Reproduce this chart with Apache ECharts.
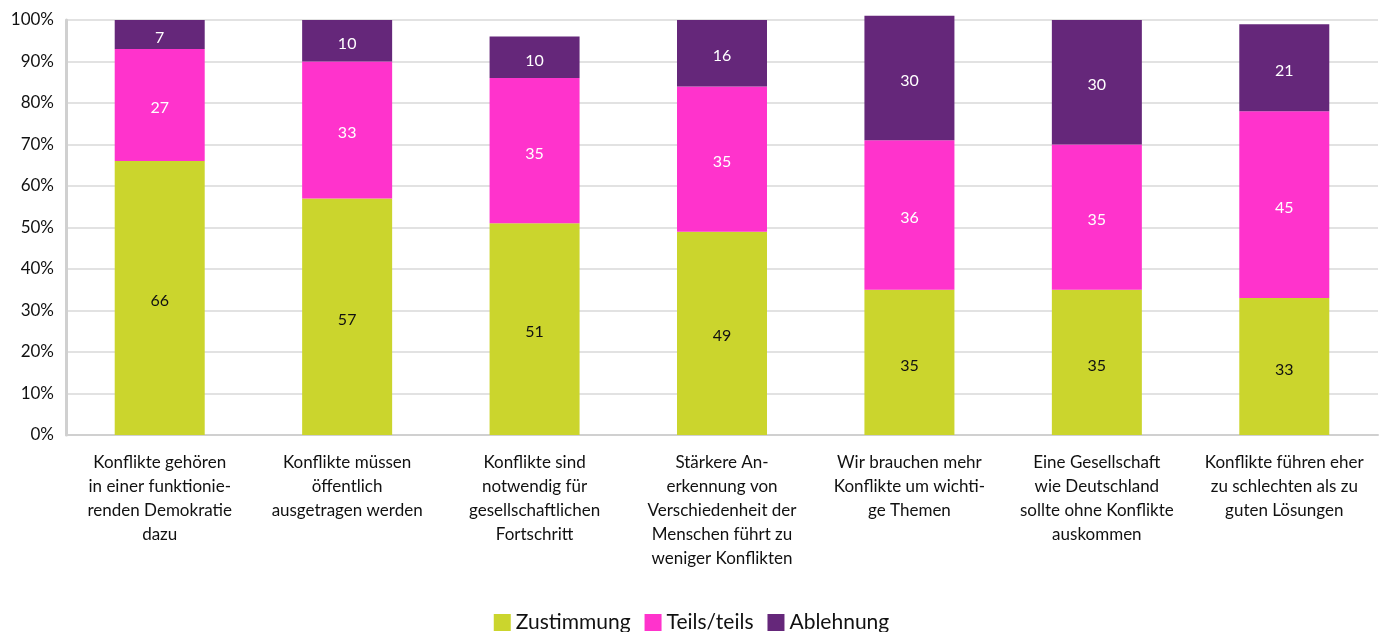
<!DOCTYPE html>
<html>
<head>
<meta charset="utf-8">
<script src="https://cdn.jsdelivr.net/npm/echarts@6/dist/echarts.min.js"></script>
<style>
  html, body { margin: 0; padding: 0; background: #fff; }
  #chart { width: 1383px; height: 632px; }
</style>
</head>
<body>
<div id="chart"></div>
<script>
const categories = [
    'Konflikte gehören\nin einer funktionie-\nrenden Demokratie\ndazu',
    'Konflikte müssen\nöffentlich\nausgetragen werden',
    'Konflikte sind\nnotwendig für\ngesellschaftlichen\nFortschritt',
    'Stärkere An-\nerkennung von\nVerschiedenheit der\nMenschen führt zu\nweniger Konflikten',
    'Wir brauchen mehr\nKonflikte um wichti-\nge Themen',
    'Eine Gesellschaft\nwie Deutschland\nsollte ohne Konflikte\nauskommen',
    'Konflikte führen eher\nzu schlechten als zu\nguten Lösungen'
];
const zustimmung = [66, 57, 51, 49, 35, 35, 33];
const teilsTeils = [27, 33, 35, 35, 36, 35, 45];
const ablehnung = [7, 10, 10, 16, 30, 30, 21];

const fontFamily = 'Lato, "Open Sans", sans-serif';

const chart = echarts.init(document.getElementById('chart'));

function barSeries(name, data, color, labelColor) {
    return {
        name: name,
        type: 'bar',
        stack: 'total',
        barWidth: 90,
        clip: false,
        itemStyle: { color: color },
        label: {
            show: true,
            position: 'inside',
            color: labelColor,
            fontSize: 16,
            offset: [0, 3],
            fontFamily: fontFamily
        },
        data: data
    };
}

const option = {
    animation: false,
    textStyle: { fontFamily: fontFamily },
    grid: {
        left: 66,
        right: 5,
        top: 20,
        bottom: 197
    },
    legend: {
        top: 607,
        left: 'center',
        itemWidth: 17,
        itemHeight: 17,
        itemGap: 14,
        icon: 'rect',
        textStyle: { fontSize: 21, color: '#111', fontFamily: fontFamily },
        data: ['Zustimmung', 'Teils/teils', 'Ablehnung']
    },
    xAxis: {
        type: 'category',
        data: categories,
        axisLine: { lineStyle: { color: '#d0d0d0', width: 2 } },
        axisTick: { show: false },
        axisLabel: {
            interval: 0,
            color: '#111',
            fontSize: 17,
            lineHeight: 24,
            margin: 16,
            fontFamily: fontFamily
        }
    },
    yAxis: {
        type: 'value',
        min: 0,
        max: 100,
        interval: 10,
        axisLine: { show: true, lineStyle: { color: '#d0d0d0', width: 3 } },
        axisTick: { show: false },
        splitLine: { lineStyle: { color: '#d9d9d9', width: 1.5 } },
        axisLabel: {
            formatter: '{value}%',
            color: '#111',
            fontSize: 17,
            margin: 12,
            fontFamily: fontFamily
        }
    },
    series: [
        barSeries('Zustimmung', zustimmung, '#cbd52d', '#111'),
        barSeries('Teils/teils', teilsTeils, '#ff33cc', '#fff'),
        barSeries('Ablehnung', ablehnung, '#65277a', '#fff')
    ]
};

chart.setOption(option);
</script>
</body>
</html>
